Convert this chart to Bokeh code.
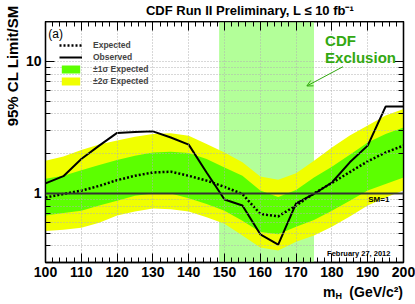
import math
from bokeh.plotting import figure
from bokeh.layouts import column, row
from bokeh.models import (Range1d, LinearAxis, LogAxis, FixedTicker, SingleIntervalTicker,
                          Label, Span, BoxAnnotation, Arrow, OpenHead, Legend, LegendItem)
from bokeh.embed import file_html
from bokeh.resources import INLINE

# ---------------- data ----------------
mass = [100, 105, 110, 115, 120, 125, 130, 135, 140, 145, 150,
        155, 160, 165, 170, 175, 180, 185, 190, 195, 200]
expected = [0.93, 0.99, 1.05, 1.14, 1.26, 1.36, 1.44, 1.46, 1.36, 1.25, 1.12,
            0.99, 0.70, 0.67, 0.81, 1.00, 1.20, 1.45, 1.75, 2.04, 2.30]
observed = [1.19, 1.35, 1.82, 2.30, 2.87, 2.92, 2.95, 2.65, 2.34, 1.44, 0.90,
            0.81, 0.49, 0.41, 0.84, 0.99, 1.21, 1.72, 2.30, 4.54, 4.54]
sigma1_lo = [0.68, 0.71, 0.74, 0.81, 0.88, 0.96, 1.00, 1.00, 0.92, 0.83, 0.74,
             0.62, 0.51, 0.49, 0.56, 0.63, 0.74, 0.88, 1.05, 1.18, 1.32]
sigma1_hi = [1.29, 1.36, 1.50, 1.64, 1.79, 1.93, 2.04, 2.07, 2.02, 1.82, 1.57,
             1.36, 1.05, 0.94, 1.06, 1.32, 1.59, 1.96, 2.43, 2.82, 3.16]
sigma2_lo = [0.52, 0.53, 0.55, 0.60, 0.68, 0.73, 0.77, 0.76, 0.73, 0.66, 0.59,
             0.48, 0.39, 0.37, 0.43, 0.48, 0.56, 0.67, 0.81, 0.93, 1.05]
sigma2_hi = [1.77, 1.90, 2.13, 2.34, 2.51, 2.69, 2.82, 2.85, 2.73, 2.37, 2.04,
             1.72, 1.34, 1.27, 1.42, 1.77, 2.23, 2.74, 3.26, 3.88, 4.36]
excl_lo, excl_hi = 148.5, 175.0
x_major = 10
y_major_ticks = [1, 10]
y_minor_ticks = [0.3, 0.4, 0.5, 0.6, 0.7, 0.8, 0.9, 2, 3, 4, 5, 6, 7, 8, 9, 20]

FONT = "Liberation Sans"
YELLOW = "#f0ff00"
GREEN = "#5cff00"
EXCL = "#b3ff99"
TXTGREEN = "#33a811"

FW, FH = 358, 241
YLAB_W = 22
LEFT = 22
RIGHT = 12
TITLE_H = 21
BOTTOM = 20
XLAB_H = 20

p = figure(frame_width=FW, frame_height=FH, y_axis_type="log",
           x_range=Range1d(100, 200), y_range=Range1d(0.3, 20),
           output_backend="svg", toolbar_location=None,
           min_border_left=LEFT, min_border_right=RIGHT, min_border_top=0, min_border_bottom=BOTTOM)
p.background_fill_color = "white"
p.border_fill_color = "white"
p.outline_line_color = "black"
p.outline_line_width = 1.3

xt = SingleIntervalTicker(interval=x_major, num_minor_ticks=5)
yt = FixedTicker(ticks=y_major_ticks, minor_ticks=y_minor_ticks)

def style_axis(ax, show_labels=True, standoff=4):
    ax.axis_line_color = "black"
    ax.axis_line_width = 1.3
    ax.major_tick_in = 9
    ax.major_tick_out = 0
    ax.minor_tick_in = 5
    ax.minor_tick_out = 0
    ax.major_tick_line_color = "black"
    ax.minor_tick_line_color = "black"
    ax.major_label_text_font = FONT
    ax.major_label_text_font_style = "bold"
    ax.major_label_text_font_size = "14px" if show_labels else "1px"
    ax.major_label_text_color = "black"
    ax.major_label_standoff = standoff if show_labels else 0
    if not show_labels:
        ax.major_label_text_alpha = 0

p.xaxis.ticker = xt
p.yaxis.ticker = yt
p.yaxis.major_label_overrides = {1: "1", 10: "10"}
style_axis(p.xaxis[0], standoff=4)
style_axis(p.yaxis[0], standoff=4)

top_ax = LinearAxis(ticker=xt)
style_axis(top_ax, False)
p.add_layout(top_ax, "above")
right_ax = LogAxis(ticker=yt)
style_axis(right_ax, False)
p.add_layout(right_ax, "right")

p.xgrid.ticker = xt
p.ygrid.ticker = yt
for g in (p.xgrid[0], p.ygrid[0]):
    g.grid_line_color = "#b0b0b0"
    g.grid_line_dash = "1 2"
    g.grid_line_width = 1
    g.level = "glyph"
p.ygrid.minor_grid_line_color = "#b0b0b0"
p.ygrid.minor_grid_line_dash = "1 2"

# exclusion region
p.add_layout(BoxAnnotation(left=excl_lo, right=excl_hi, fill_color=EXCL, fill_alpha=1.0,
                           line_color=None, level="image"))

# bands
r_2s = p.varea(x=mass, y1=sigma2_lo, y2=sigma2_hi, fill_color=YELLOW, level="underlay")
r_1s = p.varea(x=mass, y1=sigma1_lo, y2=sigma1_hi, fill_color=GREEN, level="underlay")

r_exp = p.line(mass, expected, line_color="black", line_width=2.5, line_dash="2 2")
r_obs = p.line(mass, observed, line_color="black", line_width=2)

p.add_layout(Span(location=1, dimension="width", line_color="#333333", line_width=2))

legend = Legend(items=[LegendItem(label="Expected", renderers=[r_exp]),
                       LegendItem(label="Observed", renderers=[r_obs]),
                       LegendItem(label="\u00b11\u03c3 Expected", renderers=[r_1s]),
                       LegendItem(label="\u00b12\u03c3 Expected", renderers=[r_2s])],
                location=(14, 176))
legend.background_fill_alpha = 0
legend.border_line_color = None
legend.padding = 0
legend.margin = 0
legend.spacing = 2
legend.glyph_width = 23
legend.glyph_height = 10
legend.label_height = 9
legend.label_standoff = 11
legend.label_text_font = FONT
legend.label_text_font_size = "8.5px"
legend.label_text_font_style = "bold"
legend.label_text_baseline = "middle"
p.add_layout(legend)

def lab(fig, text, x, y, size, style="bold", color="black", align="left", baseline="middle",
        units="data", angle=0.0):
    fig.add_layout(Label(x=x, y=y, x_units=units, y_units=units, text=text,
                         text_font=FONT, text_font_size=size, text_font_style=style,
                         text_color=color, text_align=align, text_baseline=baseline, angle=angle))

# in-plot texts (vertically centred)
lab(p, "(a)", 100.8, 16.1, "12px", style="normal")
lab(p, "CDF", 178.1, 14.35, "15px", color=TXTGREEN)
lab(p, "Exclusion", 178.1, 10.7, "15px", color=TXTGREEN)
lab(p, "SM=1", 193.1, 0.895, "8px", align="center")
lab(p, "February 27, 2012", 187.5, 0.349, "7.5px", align="center")

p.add_layout(Arrow(x_start=183.1, y_start=9.1, x_end=173.0, y_end=6.5,
                   line_color=TXTGREEN, line_width=1,
                   end=OpenHead(size=6, line_color=TXTGREEN, line_width=1)))

def text_panel(w, h):
    f = figure(width=w, height=h, x_range=Range1d(0, w), y_range=Range1d(0, h),
               output_backend="svg", toolbar_location=None, min_border=0,
               x_axis_location=None, y_axis_location=None)
    f.outline_line_color = None
    f.grid.visible = False
    f.background_fill_color = "white"
    f.border_fill_color = "white"
    return f

MAIN_W = LEFT + FW + RIGHT
MAIN_H = FH + BOTTOM
TOTAL_W = YLAB_W + MAIN_W

# title panel (x measured from the panel's left edge at YLAB_W)
t = text_panel(MAIN_W, TITLE_H)
lab(t, "CDF Run II Preliminary, L \u2264 10 fb\u207b\u00b9", 226.5 - YLAB_W, 11.5, "13px",
    align="center", units="screen")

# y-label panel
yl = text_panel(YLAB_W, TITLE_H + MAIN_H)
lab(yl, "95% CL Limit/SM", 12, TITLE_H + MAIN_H - 5, "15px", align="right",
    units="screen", angle=math.pi / 2)

# x-label panel
xl = text_panel(TOTAL_W, XLAB_H)
lab(xl, "m", 322.5, 11, "14px", units="screen")
lab(xl, "H", 335, 6.5, "9px", units="screen")
lab(xl, "(GeV/c\u00b2)", YLAB_W + LEFT + FW + 0.5, 11, "14px", align="right", units="screen")

layout = column(row(yl, column(t, p, spacing=0), spacing=0), xl, spacing=0)

open("out.html", "w").write(file_html(layout, INLINE))
